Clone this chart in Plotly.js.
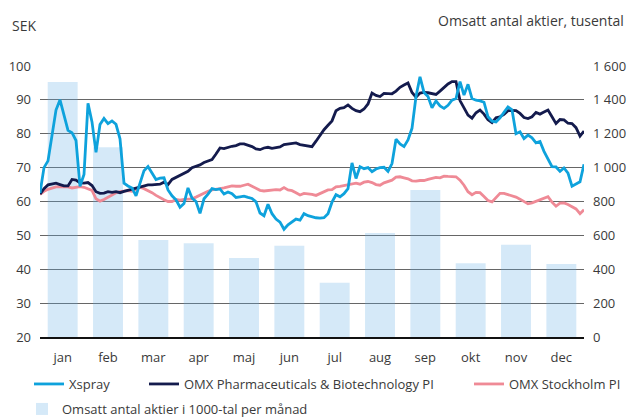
<!DOCTYPE html>
<html>
<head>
<meta charset="utf-8">
<script src="https://cdn.plot.ly/plotly-3.0.1.min.js"></script>
<style>
html,body{margin:0;padding:0;background:#fff;}
#chart{width:629px;height:417px;}
</style>
</head>
<body>
<div id="chart"></div>
<script>
// Monthly traded volume (thousands of shares)
const months = ["jan","feb","mar","apr","maj","jun","jul","aug","sep","okt","nov","dec"];
const volume = [1505, 1120, 573, 553, 466, 539, 321, 614, 868, 435, 545, 431];

// Right-axis ticks
const volTicks = [0, 200, 400, 600, 800, 1000, 1200, 1400, 1600];
const volTickText = ["0", "200", "400", "600", "800", "1 000", "1 200", "1 400", "1 600"];

// Daily-ish price series (SEK), evenly spaced over the year
const xspray = [
62.5,70,72,79,87,90,85.5,81,80.3,78,64.5,68,89,83.5,74.5,82.7,84.5,83,83.8,82.8,
78.5,65.4,64.6,64,61.7,65.6,69.1,70.3,68.2,66.5,66.9,67,63.4,61.7,60.5,58.3,59.4,64,61,60,
56.5,60.8,62.2,63.8,63.5,63.7,62.2,62.8,62.3,61.2,61.4,61.6,61.2,60.9,59.9,56.6,55.8,59.2,56.4,54.8,
53.9,51.8,53.1,54,54.8,54.5,56.4,55.8,55.4,55.2,55.1,55.2,56.4,59.8,62,61.4,62.3,63.8,71.4,66.8,
70.3,69.7,70,68.8,69.6,70,70.1,68.9,71.2,78.4,77,76.2,78.2,81.6,91,96.8,92.2,91,87.7,89.7,
88.2,87.5,88.4,89.9,90.4,95.4,91.4,94.6,90.4,89.9,89.7,89.3,85,83.7,83.5,84.7,86.3,87.9,87.1,80,
80.6,78.6,79.6,78.8,77.3,77.7,74.8,72.3,70.3,70.2,68.9,69.9,68.4,64.5,65.1,65.8,71
];
const pharma = [
62.2,63.8,64.9,65.2,65.4,65,64.6,64.6,66.5,66.3,65.5,65.4,65.6,64.7,62.9,62.4,62.5,62.9,62.7,62.9,
62.6,63,63.3,63.7,63.9,64.4,64.7,64.9,64.9,64.9,65.1,65.7,65,66.5,67.1,67.5,68.1,68.9,70,70.3,
70.8,71.5,72,72.4,74,75.8,75.6,76,76.3,76.5,77,77,76.6,76.2,75.5,75.3,75.8,76,75.7,76,
76.1,76.8,77,77.3,77.3,76.8,76.6,76.5,76.2,77.8,79.6,81.2,82.5,83.8,86.8,87.5,87.7,88.5,87.5,86.8,
86.5,87.3,88.8,92,91.3,91,91.9,91.9,91.8,92.6,93.7,94.4,95,92.2,90.8,92,92.2,92.1,91.8,91.6,
92.6,93.8,94.7,95.4,95.4,89.8,87.6,85.5,84.6,86.2,87,85.8,84.1,83.3,84.7,85,85.7,86.8,86.9,86.8,
86,84.8,84.5,85,86.3,85.8,86.4,87,85,83,84.2,84.1,83.1,83,81.8,79.3,80.8
];
const stockholm = [
62.1,63,63.6,64,64.3,64.4,64.4,64.3,64,64.2,64.4,64.2,63.8,63.3,60.8,60.1,60.6,61.2,61.9,62.6,
62.9,63.1,63.2,63,63.6,64.2,63.8,63.3,62.6,61.8,61.1,60.5,60,60,60.6,60.4,60.6,60.6,60.8,61.3,
61.9,62.3,63,63.4,63.5,63.8,64,64.2,64.6,64.5,64.5,64.8,65.1,64.5,63.8,63.3,63.1,63.3,63.4,63.5,
63.4,64.1,63.4,63.2,62.6,61.9,62.4,62.3,62.1,61.8,62.4,62.8,63.4,63.5,64.3,64.5,64.7,65,65.2,65.4,
65.1,65.7,65.9,65.6,65,64.8,65.5,65.9,66.3,67.2,67.3,67,66.7,66.1,66,66.2,66.2,66.5,66.8,67.1,
67,67.5,67.4,67.3,67.3,66.3,64.8,62.9,62,62.7,62.6,61.5,60.3,59.9,61,62.4,62.4,62.1,61.7,61.3,
60.7,60.1,59.3,59.6,60,60.4,61,61.4,59.8,58.6,59.5,59.6,59.1,58.5,57.8,56.4,57.6
];
const dayIndex = xspray.map((_, i) => i);

const FONT = "Open Sans, sans-serif";
const TXT = "#3a3a3a";
const PW = 544, PL = 40, PT = 66, PH = 271;
const px = v => (v - PL) / PW;       // pixel -> paper x
const py = v => (PT + PH - v) / PH;  // pixel -> paper y

const traces = [
  {type:"bar", x:months, y:volume, xaxis:"x", yaxis:"y", width:0.66,
   marker:{color:"rgba(100,175,230,0.27)", line:{width:0}},
   name:"Omsatt antal aktier i 1000-tal per månad", legend:"legend4", hoverinfo:"skip"},
  {type:"scatter", mode:"lines", x:dayIndex, y:stockholm, xaxis:"x2", yaxis:"y2",
   line:{color:"#ef8a96", width:2.8}, name:"OMX Stockholm PI", legend:"legend3"},
  {type:"scatter", mode:"lines", x:dayIndex, y:pharma, xaxis:"x2", yaxis:"y2",
   line:{color:"#141b4d", width:2.8}, name:"OMX Pharmaceuticals & Biotechnology PI", legend:"legend2"},
  {type:"scatter", mode:"lines", x:dayIndex, y:xspray, xaxis:"x2", yaxis:"y2",
   line:{color:"#0ea2dc", width:2.8}, name:"Xspray", legend:"legend"}
];

const legBase = {orientation:"h", yanchor:"middle", xanchor:"left", bgcolor:"rgba(0,0,0,0)",
  font:{family:FONT, size:13, color:TXT}, borderwidth:0};

const layout = {
  width:629, height:417,
  margin:{l:PL, r:629-PL-PW, t:PT, b:417-PT-PH, autoexpand:false},
  paper_bgcolor:"#fff", plot_bgcolor:"#fff",
  font:{family:FONT, size:13, color:TXT},
  showlegend:true,
  legend: Object.assign({}, legBase, {x:px(29), y:py(384)}),
  legend2: Object.assign({}, legBase, {x:px(144), y:py(384)}),
  legend3: Object.assign({}, legBase, {x:px(469), y:py(384)}),
  legend4: Object.assign({}, legBase, {x:px(22), y:py(409)}),
  bargap:0.34,
  xaxis:{type:"category", categoryarray:months, range:[-0.5,11.5], showgrid:false,
         zeroline:false, showline:true, linecolor:"#111", linewidth:1.5, layer:"above traces",
         ticks:"", ticklabelstandoff:8, tickfont:{family:FONT, size:13, color:TXT}, fixedrange:true},
  xaxis2:{overlaying:"x", range:[0, xspray.length-1], visible:false, fixedrange:true},
  yaxis:{side:"right", range:[0,1600], tickvals:volTicks, ticktext:volTickText,
         showgrid:true, gridcolor:"#666", gridwidth:1, zeroline:false, showline:false, ticks:"",
         ticklabelstandoff:8, tickfont:{family:FONT, size:13, color:TXT}, fixedrange:true},
  yaxis2:{overlaying:"y", side:"left", range:[20,100], dtick:10, tick0:20, showgrid:false,
          zeroline:false, showline:false, ticks:"", ticklabelstandoff:8,
          tickfont:{family:FONT, size:13, color:TXT}, fixedrange:true},
  annotations:[
    {text:"SEK", xref:"paper", yref:"paper", x:px(10), y:py(25), xanchor:"left", yanchor:"middle",
     showarrow:false, font:{family:FONT, size:14, color:TXT}},
    {text:"Omsatt antal aktier, tusental", xref:"paper", yref:"paper", x:px(626), y:py(20),
     xanchor:"right", yanchor:"middle", showarrow:false, font:{family:FONT, size:14, color:TXT}}
  ]
};

Plotly.newPlot("chart", traces, layout, {displayModeBar:false, staticPlot:true});
</script>
</body>
</html>
